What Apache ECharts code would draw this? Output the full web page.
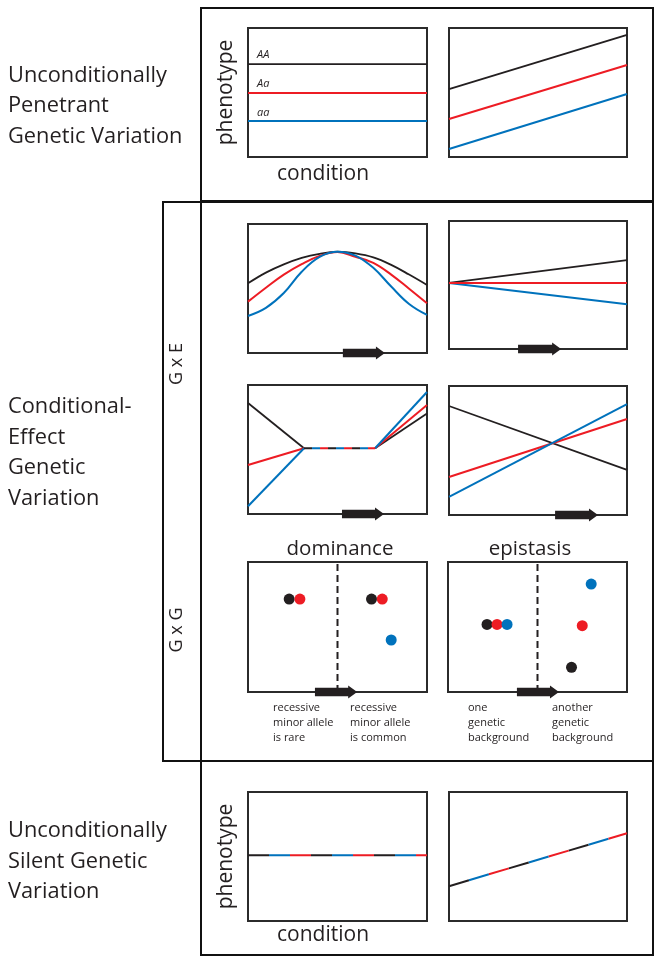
<!DOCTYPE html>
<html><head><meta charset="utf-8">
<script src="https://cdn.jsdelivr.net/npm/echarts@6/dist/echarts.min.js"></script>
<style>html,body{margin:0;padding:0;background:#fff}#c{width:662px;height:964px}</style>
</head><body><div id="c"></div>
<script>
// ---------- text / categories ----------
const sectionLabels = ['Unconditionally\nPenetrant\nGenetic Variation', 'Conditional-\nEffect\nGenetic\nVariation', 'Unconditionally\nSilent Genetic\nVariation'];
const interactionLabels = ['G x E', 'G x G'];
const genotypes = ['AA', 'Aa', 'aa'];
const xAxisName = 'condition';
const yAxisName = 'phenotype';
const dotPanelTitles = ['dominance', 'epistasis'];
const dotGroupLabels = ['recessive\nminor allele\nis rare', 'recessive\nminor allele\nis common', 'one\ngenetic\nbackground', 'another\ngenetic\nbackground'];

// ---------- data (0-100 scale in every panel) ----------
const condEnds = [0, 100];
// unconditionally penetrant: flat
const penFlatAA = [72, 72];
const penFlatAa = [49.6, 49.6];
const penFlataa = [28, 28];
// unconditionally penetrant: sloped
const penSlopeAA = [52.7, 94.6];
const penSlopeAa = [29.5, 71.3];
const penSlopeaa = [6.2, 48.8];
// GxE: bell shaped
const bellX = [0, 10, 20, 30, 40, 50, 60, 70, 80, 90, 100];
const bellAA = [54, 62.3, 68.7, 73.7, 76.9, 78.5, 77.2, 74.1, 68.3, 60.8, 52.7];
const bellAa = [39.8, 50.6, 60.8, 68.9, 75.3, 78.3, 74.6, 69.9, 60.8, 49.8, 38.5];
const bellaa = [28.7, 35, 46.5, 63, 74.5, 78.5, 75.5, 66, 51.5, 38, 29.5];
// GxE: fan
const fanAA = [51.6, 69.5];
const fanAa = [51.6, 51.6];
const fanaa = [51.6, 35];
// GxE: plateau (left leg, shared plateau, right leg)
const plateauX = [0, 31.3, 71, 100];
const plateauAA = [86, 51, 51, 78];
const plateauAa = [38, 51, 51, 84.5];
const plateauaa = [6, 51, 51, 94.6];
// GxE: crossing
const crossAA = [84.5, 35];
const crossAa = [29.5, 74.4];
const crossaa = [14, 86];
// GxG: dominance dots [x, y]
const domAA = [[23, 71.5], [69, 71.5]];
const domAa = [[29, 71.5], [75, 71.5]];
const domaa = [[80, 40]];
// GxG: epistasis dots
const epiAA = [[21.8, 52], [69, 19]];
const epiAa = [[27.4, 52], [75, 51]];
const epiaa = [[33, 52], [80, 83]];
const dividerX = 50;
// unconditionally silent
const silentFlat = [51, 51];
const silentSlope = [27, 68];
// condition arrows [start, end] on x scale
const arrows = {2: [53, 76.5], 3: [38.8, 63], 4: [52.5, 76], 5: [59.6, 83.7], 6: [37.4, 61], 7: [38.5, 62]};

// ---------- styling ----------
const FONT = 'Open Sans';
const INK = '#231f20', RED = '#ed1c24', BLUE = '#0072bc';
const GENO_COLORS = [INK, RED, BLUE];

const panelBoxes = [
  [248, 28, 179, 129], [449, 28, 178, 129],
  [248, 224, 179, 129], [449, 221, 178, 128],
  [248, 385, 179, 129], [449, 386, 178, 129],
  [248, 562, 179, 130], [448, 562, 179, 130],
  [248, 792, 179, 129], [449, 792, 178, 129]
];
const grid = panelBoxes.map(b => ({left: b[0], top: b[1], width: b[2], height: b[3], show: true,
  borderColor: '#2b2b2b', borderWidth: 2, backgroundColor: 'transparent', containLabel: false}));

function baseAxis(i, isX) {
  const a = {type: 'value', gridIndex: i, min: 0, max: 100, show: true,
    axisLine: {show: false}, axisTick: {show: false}, axisLabel: {show: false}, splitLine: {show: false}};
  if ((i === 0 || i === 8)) {
    if (isX) {
      a.name = xAxisName; a.nameLocation = 'middle'; a.nameGap = i === 0 ? 7 : 4;
      a.nameTextStyle = {fontFamily: FONT, fontSize: 21, color: INK, padding: [0, 29, 0, 0], verticalAlign: 'top'};
    } else {
      a.name = yAxisName; a.nameLocation = 'middle'; a.nameGap = 11; a.nameRotate = 90;
      a.nameTextStyle = {fontFamily: FONT, fontSize: 21, color: INK};
    }
  }
  return a;
}
const xAxis = panelBoxes.map((b, i) => baseAxis(i, true));
const yAxis = panelBoxes.map((b, i) => baseAxis(i, false));

const series = [];
function zipXY(xs, ys) { return xs.map((x, k) => [x, ys[k]]); }
function line(gi, data, color, extra) {
  const s = {type: 'line', xAxisIndex: gi, yAxisIndex: gi, data: data, showSymbol: false, symbol: 'none',
    silent: true, animation: false, lineStyle: Object.assign({color: color, width: color === INK ? 1.8 : 2, cap: 'butt'}, (extra && extra.lineStyle) || {})};
  if (extra && extra.smooth) { s.smooth = extra.smooth; }
  series.push(s);
}
function dashed3(gi, data, seg) {
  // alternating black / blue / red segments
  [[INK, 0], [BLUE, 2 * seg], [RED, seg]].forEach(([c, off]) =>
    line(gi, data, c, {lineStyle: {width: 2, type: [seg, 2 * seg], dashOffset: off}}));
}

// panel 0: flat penetrant
[penFlatAA, penFlatAa, penFlataa].forEach((ys, k) => line(0, zipXY(condEnds, ys), GENO_COLORS[k]));
// panel 1: sloped penetrant
[penSlopeAA, penSlopeAa, penSlopeaa].forEach((ys, k) => line(1, zipXY(condEnds, ys), GENO_COLORS[k]));
// panel 2: bell
[bellAA, bellAa, bellaa].forEach((ys, k) => line(2, zipXY(bellX, ys), GENO_COLORS[k], {smooth: 0.4}));
// panel 3: fan
[fanAA, fanaa, fanAa].forEach((ys, k) => line(3, zipXY(condEnds, ys), [INK, BLUE, RED][k]));
// panel 4: plateau
[plateauAA, plateauAa, plateauaa].forEach((ys, k) => {
  const pts = zipXY(plateauX, ys);
  line(4, pts.slice(0, 2), GENO_COLORS[k]);
  line(4, pts.slice(2, 4), GENO_COLORS[k]);
});
dashed3(4, zipXY(plateauX, plateauAA).slice(1, 3), 8);
// panel 5: crossing
[crossAA, crossAa, crossaa].forEach((ys, k) => line(5, zipXY(condEnds, ys), GENO_COLORS[k]));
// panels 6,7: dots
function dots(gi, data, color) {
  series.push({type: 'scatter', xAxisIndex: gi, yAxisIndex: gi, data: data, symbol: 'circle', symbolSize: 11,
    itemStyle: {color: color, opacity: 1}, silent: true, animation: false, z: 4});
}
[6, 7].forEach(gi => line(gi, [[dividerX, 0], [dividerX, 100]], INK, {lineStyle: {width: 2, type: [7, 4]}}));
[domAA, domAa, domaa].forEach((d, k) => dots(6, d, GENO_COLORS[k]));
[epiAA, epiAa, epiaa].forEach((d, k) => dots(7, d, GENO_COLORS[k]));
// panels 8,9: silent
dashed3(8, zipXY(condEnds, silentFlat), 21);
dashed3(9, zipXY(condEnds, silentSlope), 20.8);

// condition arrows
Object.keys(arrows).forEach(key => {
  const gi = +key;
  series.push({type: 'custom', xAxisIndex: gi, yAxisIndex: gi, clip: false, silent: true, animation: false, z: 6,
    data: [[arrows[key][0], arrows[key][1], 0]], encode: {x: [0, 1], y: 2},
    renderItem: function (params, api) {
      const p1 = api.coord([api.value(0), api.value(2)]);
      const p2 = api.coord([api.value(1), api.value(2)]);
      const y = p1[1], hb = 4.2, hh = 6.5, hl = 9;
      return {type: 'polygon', shape: {points: [[p1[0], y - hb], [p2[0] - hl, y - hb], [p2[0] - hl, y - hh], [p2[0], y],
        [p2[0] - hl, y + hh], [p2[0] - hl, y + hb], [p1[0], y + hb]]}, style: {fill: INK}};
    }});
});

// ---------- frames and labels ----------
const frame = {stroke: '#111', lineWidth: 2, fill: 'none'};
const graphic = [
  {type: 'rect', shape: {x: 201, y: 8, width: 452, height: 193}, style: frame, silent: true},
  {type: 'rect', shape: {x: 163, y: 202, width: 490, height: 559}, style: frame, silent: true},
  {type: 'line', shape: {x1: 201, y1: 202, x2: 201, y2: 761}, style: {stroke: '#111', lineWidth: 2}, silent: true},
  {type: 'rect', shape: {x: 201, y: 761, width: 452, height: 194}, style: frame, silent: true}
];
const secTops = [60.5, 392, 816];
sectionLabels.forEach((t, k) => graphic.push({type: 'text', x: 8, y: secTops[k], silent: true,
  style: {text: t, fontFamily: FONT, fontSize: 21.8, lineHeight: 30.5, fill: INK, textAlign: 'left', textVerticalAlign: 'top'}}));
const gxY = [364, 630];
interactionLabels.forEach((t, k) => graphic.push({type: 'text', x: 177, y: gxY[k], rotation: Math.PI / 2, silent: true,
  style: {text: t, fontFamily: FONT, fontSize: 18, fill: INK, textAlign: 'center', textVerticalAlign: 'middle'}}));
const genoY = [55, 84, 113];
genotypes.forEach((t, k) => graphic.push({type: 'text', x: 257, y: genoY[k], silent: true,
  style: {text: t, fontFamily: FONT, fontSize: 11, fontStyle: 'italic', fill: INK, textAlign: 'left', textVerticalAlign: 'middle'}}));
const titleX = [340, 530];
dotPanelTitles.forEach((t, k) => graphic.push({type: 'text', x: titleX[k], y: 549, silent: true,
  style: {text: t, fontFamily: FONT, fontSize: 20.5, fill: INK, textAlign: 'center', textVerticalAlign: 'middle'}}));
const groupX = [273, 350, 468, 552];
dotGroupLabels.forEach((t, k) => graphic.push({type: 'text', x: groupX[k], y: 700, silent: true,
  style: {text: t, fontFamily: FONT, fontSize: 11, lineHeight: 15, fill: INK, textAlign: 'left', textVerticalAlign: 'top'}}));

const chart = echarts.init(document.getElementById('c'), null, {renderer: 'canvas'});
chart.setOption({backgroundColor: '#fff', animation: false, grid, xAxis, yAxis, series, graphic});
</script></body></html>
